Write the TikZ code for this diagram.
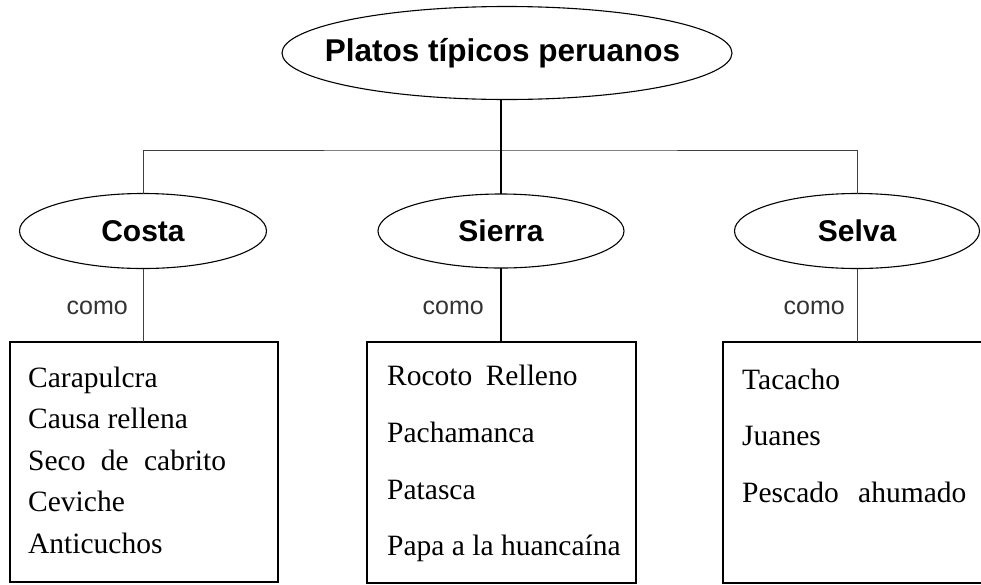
\documentclass[tikz,border=0pt]{standalone}
\usepackage{fontspec}
\setmainfont{Liberation Serif}
\newfontfamily\arialf{Liberation Sans}
\usetikzlibrary{shapes.geometric}
\begin{document}
\begin{tikzpicture}[x=1pt,y=-1pt,
  oval/.style={ellipse, draw, line width=1.1pt, inner sep=0pt, outer sep=0pt, font=\arialf\bfseries\fontsize{30}{36}\selectfont},
  listbox/.style={draw, line width=1.7pt, inner sep=0pt, outer sep=0pt},
  dish/.style={anchor=base west, inner sep=0pt, font=\fontsize{29.5}{34}\selectfont},
  como/.style={anchor=base east, inner sep=0pt, font=\arialf\fontsize{25}{30}\selectfont, text=black!80},
  thinline/.style={line width=1pt, black!75},
  thickline/.style={line width=2.4pt}]
\useasboundingbox (0,0) rectangle (981,584);
\fill[white] (0,0) rectangle (981,584);

% ellipses
\node[oval, minimum width=450pt, minimum height=93pt, font=\arialf\bfseries\fontsize{31.5}{36}\selectfont] (main) at (507,53) {\makebox[0pt]{\hspace*{-9pt}Platos típicos peruanos}};
\node[oval, minimum width=247pt, minimum height=75pt] (costa) at (143,231) {Costa};
\node[oval, minimum width=246pt, minimum height=74pt] (sierra) at (501,231) {Sierra};
\node[oval, minimum width=245pt, minimum height=75pt] (selva) at (857,231) {Selva};

% boxes
\node[listbox, minimum width=268pt, minimum height=240pt] (costabox) at (144,462) {};
\node[listbox, minimum width=269pt, minimum height=241pt] (sierrabox) at (501.5,462.5) {};
\node[listbox, minimum width=269pt, minimum height=241pt] (selvabox) at (857.5,462.5) {};

% connectors
\coordinate (bus) at (501,150);
\draw[thinline] (costa.north) |- (bus) -| (selva.north);
\draw[thickline] (main.south -| sierra.north) -- (sierra.north);
\draw[thinline] (costa.south) -- (costa.south |- costabox.north);
\draw[thickline] (sierra.south) -- (sierra.south |- sierrabox.north);
\draw[thinline] (selva.south) -- (selva.south |- selvabox.north);

% como labels
\node[como] (como1) at (128,314) {como};
\node[como] (como2) at (484,314) {como};
\node[como] (como3) at (845,314) {como};

% Costa dishes
\node[dish] (c1) at (28,387) {Carapulcra};
\node[dish] (c2) at (28,428.5) {Causa rellena};
\node[dish] (c3) at (28,470) {Seco\hspace{8pt} de\hspace{8pt} cabrito};
\node[dish] (c4) at (28,511.5) {Ceviche};
\node[dish] (c5) at (28,553) {Anticuchos};

% Sierra dishes
\node[dish] (s1) at (387,385) {Rocoto\hspace{6pt} Relleno};
\node[dish] (s2) at (387,442) {Pachamanca};
\node[dish] (s3) at (387,499) {Patasca};
\node[dish] (s4) at (387,555) {Papa a la huancaína};

% Selva dishes
\node[dish] (v1) at (742,389) {Tacacho};
\node[dish] (v2) at (742,445) {Juanes};
\node[dish] (v3) at (742,502) {Pescado\hspace{12pt} ahumado};
\end{tikzpicture}
\end{document}
